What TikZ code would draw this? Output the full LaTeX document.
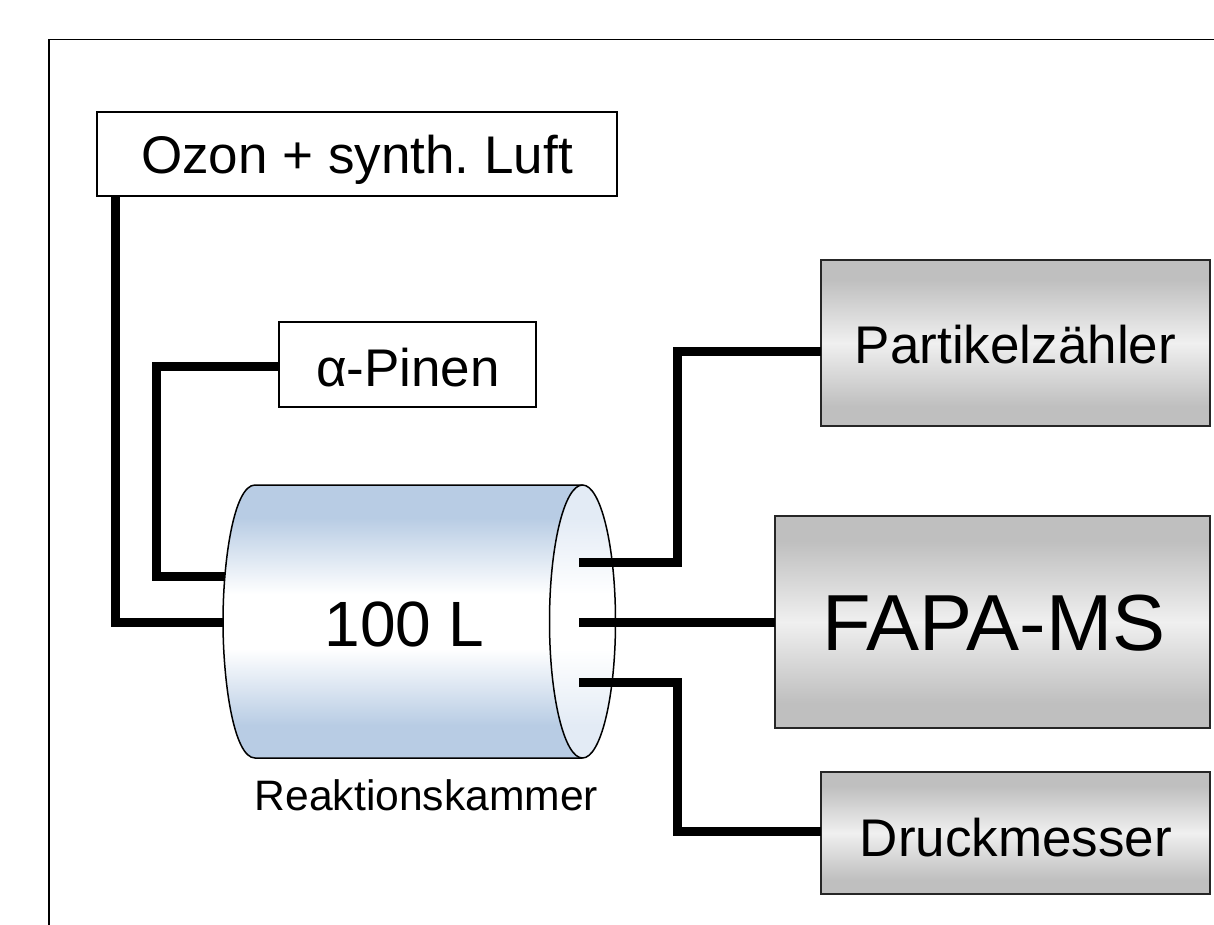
\documentclass[tikz,border=0pt]{standalone}
\usepackage{fontspec}
\setmainfont{Liberation Sans}
\usetikzlibrary{calc}
\definecolor{tankblue}{HTML}{B8CCE4}
\definecolor{tankpale}{HTML}{E3EBF5}
\pgfdeclareverticalshading{tankshade}{100bp}{
  color(0bp)=(tankblue); color(31bp)=(tankblue); color(45bp)=(white); color(55bp)=(white); color(69bp)=(tankblue); color(100bp)=(tankblue)}
\pgfdeclareverticalshading{capshade}{100bp}{
  color(0bp)=(tankpale); color(31bp)=(tankpale); color(45bp)=(white); color(55bp)=(white); color(69bp)=(tankpale); color(100bp)=(tankpale)}
\pgfdeclareverticalshading{greyshade}{100bp}{
  color(0bp)=(black!25); color(31bp)=(black!25); color(50bp)=(black!6); color(69bp)=(black!25); color(100bp)=(black!25)}
\tikzset{
  plainbox/.style={draw=black,line width=1.5pt,fill=white,rectangle,inner sep=0pt,outer sep=0pt,anchor=north west},
  greybox/.style={draw=black!85,line width=1.5pt,rectangle,inner sep=0pt,outer sep=0pt,anchor=north west,shading=greyshade},
  pipe/.style={line width=9pt,draw=black,line join=miter},
  outline/.style={draw=black,line width=1.5pt},
  tag/.style={font=\fontsize{#1}{#1}\selectfont,inner sep=0pt,outer sep=0pt}
}
\frenchspacing
\begin{document}
\begin{tikzpicture}[x=1pt,y=-1pt]
\useasboundingbox (0,0) rectangle (1214,925);
\draw[outline] (49,925) -- (49,39.5) -- (1214,39.5);

\node[plainbox,minimum width=520pt,minimum height=84pt] (ozon) at (97,112) {};
\node[plainbox,minimum width=257pt,minimum height=85pt] (pinen) at (279,322) {};
\node[greybox,minimum width=389pt,minimum height=166pt] (part) at (821,260) {};
\node[greybox,minimum width=435pt,minimum height=212pt] (fapa) at (775,516) {};
\node[greybox,minimum width=389pt,minimum height=122pt] (druck) at (821,772) {};

\node[tag=53] (tozon) at (357,160) {Ozon + synth. Luft};
\node[tag=53] (tpinen) at (408,368) {α-Pinen};
\node[tag=53] (tpart) at (1015.5,345) {Partikelzähler};
\node[tag=79.5] (tfapa) at (994,623) {FAPA-MS};
\node[tag=53] (tdruck) at (1016,838) {Druckmesser};

\coordinate (inA) at (225,622);
\coordinate (inB) at (225,576);
\coordinate (outA) at (579,562);
\coordinate (outB) at (579,622);
\coordinate (outC) at (579,682);
\coordinate (bendL) at (156,366);
\coordinate (bendR) at (677,600);
\coordinate (pT) at ([yshift=-8pt]part.west);
\coordinate (dT) at ([yshift=2pt]druck.west);

\draw[pipe] ([xshift=18pt]ozon.south west) |- (inA);
\draw[pipe] ([yshift=-1.5pt]pinen.west) -- (bendL) -- (bendL |- inB) -- (inB);

\shade[shading=tankshade] (582,485) -- (255,485)
  .. controls (234,485) and (223,560) .. (223,621.5)
  .. controls (223,683) and (234,758) .. (255,758) -- (582,758) -- cycle;
\draw[outline] (582,485) -- (255,485)
  .. controls (234,485) and (223,560) .. (223,621.5)
  .. controls (223,683) and (234,758) .. (255,758) -- (582,758);
\shade[shading=capshade] (582.5,621.5) ellipse [x radius=33,y radius=136.5];
\draw[outline] (582.5,621.5) ellipse [x radius=33,y radius=136.5];

\draw[pipe] (outA) -- (bendR |- outA) -- (bendR |- pT) -- (pT);
\draw[pipe] (outB) -- (outB -| fapa.west);
\draw[pipe] (outC) -- (bendR |- outC) -- (bendR |- dT) -- (dT);

\node[tag=64] (vol) at (404.5,624) {100 L};
\node[tag=42.6] (kammer) at (426.5,795.5) {Reaktionskammer};
\end{tikzpicture}
\end{document}
